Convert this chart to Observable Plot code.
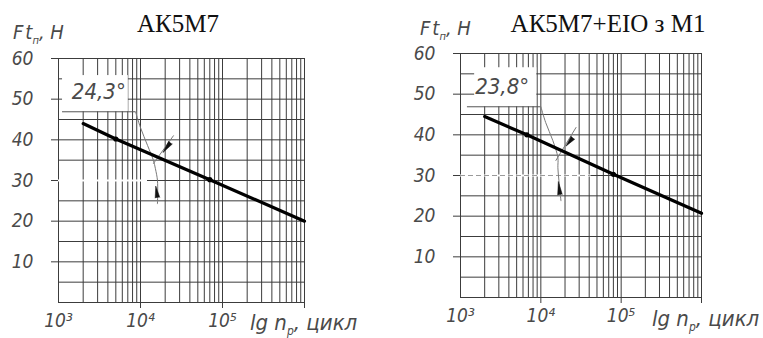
<!DOCTYPE html>
<html>
<head>
<meta charset="utf-8">
<script src="https://cdn.jsdelivr.net/npm/d3@7"></script>
<script src="https://cdn.jsdelivr.net/npm/@observablehq/plot@0.6"></script>
<style>
  body { margin: 0; background: #fff; }
  #wrap { position: relative; width: 763px; height: 338px; overflow: hidden; background: #fff; }
  .panel { position: absolute; top: 0; width: 380px; height: 338px; }
</style>
</head>
<body>
<div id="wrap"></div>
<script>
// ---------- shared axis data ----------
const xDomain = [1e3, 1e6];
const yDomain = [0, 60];
const decades = [1e3, 1e4, 1e5];
const minorSteps = [2, 3, 4, 5, 6, 7, 8, 9];
const gridYValues = [0, 5, 10, 15, 20, 25, 30, 35, 40, 45, 50, 55, 60];
const yTickLabels = [10, 20, 30, 40, 50, 60];
const xTickValues = [1e3, 1e4, 1e5];
const xTickLabels = ["10³", "10⁴", "10⁵"];
const xOuterTicks = [1e4, 1e5, 1e6];

const titles = ["АК5М7", "АК5М7+ЕІО з М1"];
const angleLabels = ["24,3°", "23,8°"];
const yAxisLabel = ["F", "t", "п", ", H"];
const xAxisLabel = ["lg n", "р", ", цикл"];

// ---------- panel 1 (АК5М7) ----------
const p1CurveN = [2000, 5000, 70000, 1000000];
const p1CurveF = [44, 40.2, 30.2, 20];
const p1DotN = [5000, 70000];
const p1DotF = [40.2, 30.2];
const p1LabelN = 3100, p1LabelF = 51.8;
const p1BoxN = [1120, 7100], p1BoxF = [46.9, 55.8];
const p1LeaderN = [1120, 8700], p1LeaderF = 46.9;
const p1ArcN = [8700, 10000, 12200, 14400, 15200, 16100, 16100];
const p1ArcF = [46.9, 43.0, 38.6, 34.9, 32.9, 30.0, 24.3];
const p1CrossN = [25200, 14400], p1CrossF = [41.0, 34.2];
const p1ArrowBaseN = [23200, 16100], p1ArrowBaseF = [39.3, 25.8];
const p1ArrowTipN = [18000, 15200], p1ArrowTipF = [36.4, 29.2];
const p1HiddenN = [1000, 12200];          // part of the 30 N grid line left blank
const p1RefN = [12200, 23000], p1RefF = 30; // short reference line

// ---------- panel 2 (АК5М7+ЕІО з М1) ----------
const p2CurveN = [2000, 6700, 80000, 1000000];
const p2CurveF = [44.5, 40, 30.3, 20.7];
const p2DotN = [6700, 80000];
const p2DotF = [40, 30.3];
const p2LabelN = 3300, p2LabelF = 51.8;
const p2BoxN = [1500, 8900], p2BoxF = [46.9, 56.5];
const p2LeaderN = [1220, 10000], p2LeaderF = 46.9;
const p2ArcN = [10000, 11500, 14100, 16300, 16300, 16800, 17800];
const p2ArcF = [46.9, 43.0, 38.6, 34.4, 31.9, 28.7, 23.8];
const p2CrossN = [27400, 15400], p2CrossF = [41.8, 33.7];
const p2ArrowBaseN = [25100, 17300], p2ArrowBaseF = [39.3, 25.3];
const p2ArrowTipN = [19400, 16300], p2ArrowTipF = [36.6, 29.5];
const p2HiddenN = [1000, 42000];
const p2RefN = [1000, 42000], p2RefF = 30;  // dashed reference line

const gridX = decades.flatMap(d => [d, ...minorSteps.map(m => m * d)]).concat([1e6]);

const panels = [
  {left: 0, ml: 58, mr: 76, mt: 58, mb: 36,
   titleX: 178, titleY: 32, yLabX: 13, yLabY: 39, xLabX: 250, xLabY: 330,
   curveN: p1CurveN, curveF: p1CurveF, dotN: p1DotN, dotF: p1DotF,
   label: angleLabels[0], labelN: p1LabelN, labelF: p1LabelF,
   boxN: p1BoxN, boxF: p1BoxF, leaderN: p1LeaderN, leaderF: p1LeaderF,
   arcN: p1ArcN, arcF: p1ArcF, crossN: p1CrossN, crossF: p1CrossF,
   baseN: p1ArrowBaseN, baseF: p1ArrowBaseF, tipN: p1ArrowTipN, tipF: p1ArrowTipF,
   hiddenN: p1HiddenN, refN: p1RefN, refF: p1RefF, dashed: false, title: titles[0]},
  {left: 383, ml: 77, mr: 62, mt: 53, mb: 41,
   titleX: 225, titleY: 32, yLabX: 37, yLabY: 35, xLabX: 269, xLabY: 326,
   curveN: p2CurveN, curveF: p2CurveF, dotN: p2DotN, dotF: p2DotF,
   label: angleLabels[1], labelN: p2LabelN, labelF: p2LabelF,
   boxN: p2BoxN, boxF: p2BoxF, leaderN: p2LeaderN, leaderF: p2LeaderF,
   arcN: p2ArcN, arcF: p2ArcF, crossN: p2CrossN, crossF: p2CrossF,
   baseN: p2ArrowBaseN, baseF: p2ArrowBaseF, tipN: p2ArrowTipN, tipF: p2ArrowTipF,
   hiddenN: p2HiddenN, refN: p2RefN, refF: p2RefF, dashed: true, title: titles[1]}
];

const W = 380, H = 338;
const techFont = "'DejaVu Sans Condensed', 'Liberation Sans', sans-serif";
const gridColor = "#3c3c3c";
const labelColor = "#4a4a4a";

const wrap = document.getElementById("wrap");

for (const p of panels) {
  const xs = d3.scaleLog(xDomain, [p.ml, W - p.mr]);
  const ys = d3.scaleLinear(yDomain, [H - p.mb, p.mt]);
  const arrowIdx = d3.range(p.baseN.length);
  const ang = i => {
    const dx = xs(p.tipN[i]) - xs(p.baseN[i]);
    const dy = ys(p.tipF[i]) - ys(p.baseF[i]);
    return Math.atan2(dx, -dy) * 180 / Math.PI;
  };
  const len = i => Math.hypot(xs(p.tipN[i]) - xs(p.baseN[i]), ys(p.tipF[i]) - ys(p.baseF[i]));
  const curve = p.curveN.map((n, i) => ({n, f: p.curveF[i]}));
  const dots = p.dotN.map((n, i) => ({n, f: p.dotF[i]}));
  const arc = p.arcN.map((n, i) => ({n, f: p.arcF[i]}));
  const cross = p.crossN.map((n, i) => ({n, f: p.crossF[i]}));

  const svg = Plot.plot({
    width: W, height: H,
    marginLeft: p.ml, marginRight: p.mr, marginTop: p.mt, marginBottom: p.mb,
    x: {type: "log", domain: xDomain, axis: null},
    y: {domain: yDomain, axis: null},
    style: {background: "transparent", overflow: "visible"},
    marks: [
      // grid
      Plot.ruleX(gridX, {x: d => d, y1: () => 0, y2: () => 60, stroke: gridColor, strokeWidth: 1}),
      Plot.ruleY(gridYValues, {y: d => d, x1: () => 1e3, x2: () => 1e6, stroke: gridColor, strokeWidth: 1}),
      // outer ticks
      Plot.ruleY(yTickLabels, {y: d => d, x1: () => 1e3, x2: () => 1e3, insetLeft: -7, stroke: gridColor}),
      Plot.ruleX(xOuterTicks, {x: d => d, y1: () => 0, y2: () => 0, insetBottom: -6, stroke: gridColor}),
      // blanked part of the 30 N grid line
      Plot.ruleY([p.refF], {y: d => d, x1: () => p.hiddenN[0], x2: () => p.hiddenN[1], stroke: "#fff", strokeWidth: 2}),
      Plot.ruleY([p.refF], {y: d => d, x1: () => p.refN[0], x2: () => p.refN[1],
        stroke: p.dashed ? "#9a9a9a" : gridColor, strokeWidth: 1, strokeDasharray: p.dashed ? "5,3" : null}),
      // label box
      Plot.rect([0], {x1: () => p.boxN[0], x2: () => p.boxN[1], y1: () => p.boxF[0], y2: () => p.boxF[1], fill: "#fff"}),
      Plot.text([p.label], {x: () => p.labelN, y: () => p.labelF, text: d => d,
        fontFamily: techFont, fontStyle: "italic", fontSize: 22, fill: labelColor, textAnchor: "middle", lineAnchor: "middle"}),
      // angle dimension
      Plot.ruleY([p.leaderF], {y: d => d, x1: () => p.leaderN[0], x2: () => p.leaderN[1], stroke: "#555", strokeWidth: 1}),
      Plot.line(arc, {x: "n", y: "f", curve: "catmull-rom", stroke: "#7a7a7a", strokeWidth: 1}),
      Plot.line(cross, {x: "n", y: "f", stroke: "#7a7a7a", strokeWidth: 1}),
      // main curve
      Plot.line(curve, {x: "n", y: "f", stroke: "#000", strokeWidth: 3.2}),
      Plot.dot(dots, {x: "n", y: "f", r: 2.6, fill: "#000"}),
      // arrows
      Plot.vector(arrowIdx, {x: i => p.baseN[i], y: i => p.baseF[i], rotate: ang, length: len,
        shape: "spike", r: 2.3, anchor: "start", fill: "#111", stroke: "#111", strokeWidth: 0.5}),
      // tick labels
      Plot.text(yTickLabels, {x: () => 1e3, y: d => d, text: d => String(d), dx: -25, textAnchor: "end",
        fontFamily: techFont, fontStyle: "italic", fontSize: 19, fill: labelColor}),
      Plot.text(xTickValues, {x: d => d, y: () => 0, text: (d, i) => xTickLabels[i], dy: 18,
        fontFamily: techFont, fontStyle: "italic", fontSize: 19, fill: labelColor})
    ]
  });

  const s = d3.select(svg);
  s.append("text")
    .attr("x", p.titleX).attr("y", p.titleY)
    .attr("text-anchor", "middle")
    .attr("font-family", "'Liberation Serif', 'Times New Roman', serif")
    .attr("font-size", 25).attr("fill", "#111")
    .text(p.title);

  const yl = s.append("text")
    .attr("x", p.yLabX).attr("y", p.yLabY)
    .attr("text-anchor", "start")
    .attr("font-family", techFont).attr("font-style", "italic")
    .attr("font-size", 20).attr("fill", labelColor);
  yl.append("tspan").text(yAxisLabel[0]);
  yl.append("tspan").attr("dx", 2).text(yAxisLabel[1]);
  yl.append("tspan").attr("font-size", 11).attr("dy", 5).text(yAxisLabel[2]);
  yl.append("tspan").attr("dy", -5).text(yAxisLabel[3]);

  const xl = s.append("text")
    .attr("x", p.xLabX).attr("y", p.xLabY)
    .attr("text-anchor", "start")
    .attr("font-family", techFont).attr("font-style", "italic")
    .attr("font-size", 22).attr("fill", labelColor);
  xl.append("tspan").text(xAxisLabel[0]);
  xl.append("tspan").attr("font-size", 12).attr("dy", 5).text(xAxisLabel[1]);
  xl.append("tspan").attr("dy", -5).text(xAxisLabel[2]);

  const div = document.createElement("div");
  div.className = "panel";
  div.style.left = p.left + "px";
  div.appendChild(svg);
  wrap.appendChild(div);
}
</script>
</body>
</html>
